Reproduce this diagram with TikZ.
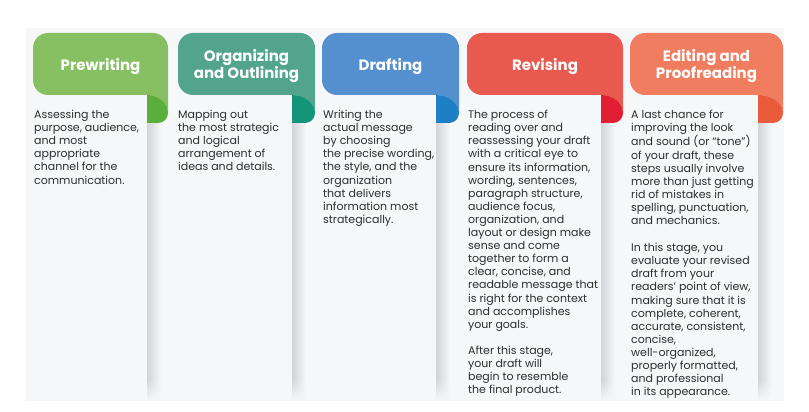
\documentclass[tikz,border=0pt]{standalone}
\usepackage{fontspec}
\setmainfont{Poppins}
\usetikzlibrary{fadings}
\definecolor{panelc}{HTML}{F6F7F9}
\definecolor{shadowc}{HTML}{D2D4D8}
\definecolor{txtc}{HTML}{2E2E2E}
\definecolor{gA}{HTML}{86C062}\definecolor{gB}{HTML}{5CAE3C}
\definecolor{tA}{HTML}{52A58B}\definecolor{tB}{HTML}{14957A}
\definecolor{bA}{HTML}{548FCF}\definecolor{bB}{HTML}{1E7FC4}
\definecolor{rA}{HTML}{E85A4F}\definecolor{rB}{HTML}{E11E33}
\definecolor{oA}{HTML}{F07D60}\definecolor{oB}{HTML}{EA5B3C}
\tikzset{
  bodytext/.style={anchor=north west, inner sep=0pt, align=left, text=txtc,
    font=\fontsize{11}{13.1}\selectfont},
  tabtitle/.style={inner sep=0pt, align=center, text=white,
    font=\bfseries\fontsize{15}{17}\selectfont},
}
% #1 left, #2 fold start, #3 right, #4 light colour, #5 dark colour
\newcommand\stagetab[5]{%
  \fill[#4] (#2,317) -- (#1+15,317) arc[start angle=270,end angle=180,radius=15pt]
    -- (#1,364) arc[start angle=180,end angle=90,radius=15pt]
    -- (#3-15,379) arc[start angle=90,end angle=0,radius=15pt]
    -- (#3,299) arc[start angle=0,end angle=90,x radius={(#3-#2)*1pt},y radius=18pt] -- cycle;
  \fill[#5] (#2,317) -- (#2,289) -- (#3-10,289) arc[start angle=270,end angle=360,radius=10pt]
    -- (#3,299) arc[start angle=0,end angle=90,x radius={(#3-#2)*1pt},y radius=18pt] -- cycle;
}
\newcommand\colshadow[1]{%
  \shade[left color=shadowc, right color=panelc] (#1,317) rectangle (#1+14,11);
  \fill[panelc, path fading=north] (#1-0.5,11) rectangle (#1+15,32);
}
\begin{document}
\begin{tikzpicture}[x=1pt,y=1pt]
\useasboundingbox (0,0) rectangle (809,412);
\fill[white] (0,0) rectangle (809,412);
\fill[panelc] (26,11) rectangle (784,384);
\colshadow{147}
\colshadow{292}
\colshadow{436}
\colshadow{601}
\colshadow{758}
\fill[white] (784,0) rectangle (809,412);
\stagetab{33}{147}{168}{gA}{gB}
\stagetab{178}{292}{315}{tA}{tB}
\stagetab{322}{436}{459}{bA}{bB}
\stagetab{467}{601}{623}{rA}{rB}
\stagetab{630}{758}{783}{oA}{oB}
\node[tabtitle] (t1) at (100.5,345.5) {Prewriting};
\node[tabtitle] (t2) at (246.5,346) {Organizing\\and Outlining};
\node[tabtitle] (t3) at (390.5,345.5) {Drafting};
\node[tabtitle] (t4) at (545,345.5) {Revising};
\node[tabtitle] (t5) at (706.5,346) {Editing and\\Proofreading};
\node[bodytext] (b1) at (34,302) {Assessing the\\purpose, audience,\\and most\\appropriate\\channel for the\\communication.};
\node[bodytext] (b2) at (178,302) {Mapping out\\the most strategic\\and logical\\arrangement of\\ideas and details.};
\node[bodytext] (b3) at (323,302) {Writing the\\actual message\\by choosing\\the precise wording,\\the style, and the\\organization\\that delivers\\information most\\strategically.};
\node[bodytext] (b4) at (468,302) {The process of\\reading over and\\reassessing your draft\\with a critical eye to\\ensure its information,\\wording, sentences,\\paragraph structure,\\audience focus,\\organization, and\\layout or design make\\sense and come\\together to form a\\clear, concise, and\\readable message that\\is right for the context\\and accomplishes\\your goals.\\[13.1pt]After this stage,\\your draft will\\begin to resemble\\the final product.};
\node[bodytext] (b5) at (631,302) {A last chance for\\improving the look\\and sound (or “tone”)\\of your draft, these\\steps usually involve\\more than just getting\\rid of mistakes in\\spelling, punctuation,\\and mechanics.\\[14pt]In this stage, you\\evaluate your revised\\draft from your\\readers’ point of view,\\making sure that it is\\complete, coherent,\\accurate, consistent,\\concise,\\well-organized,\\properly formatted,\\and professional\\in its appearance.};
\end{tikzpicture}
\end{document}
